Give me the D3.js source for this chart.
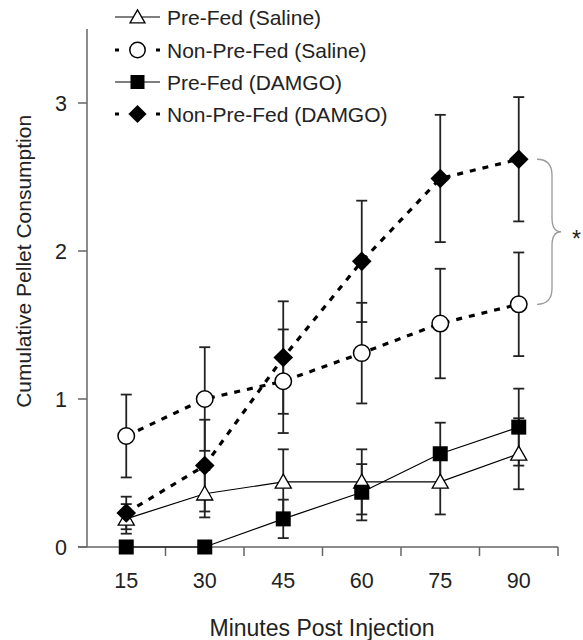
<!DOCTYPE html>
<html><head><meta charset="utf-8">
<script src="https://cdn.jsdelivr.net/npm/d3@7"></script>
<style>html,body{margin:0;padding:0;background:#fff;}svg{display:block;font-family:"Liberation Sans",Arial,sans-serif;}</style>
</head><body>
<script>
const minutes = ["15","30","45","60","75","90"];
const yTicks = [0,1,2,3];
const seriesNames = ["Pre-Fed (Saline)","Non-Pre-Fed (Saline)","Pre-Fed (DAMGO)","Non-Pre-Fed (DAMGO)"];
const preFedSaline = [0.19,0.36,0.44,0.44,0.44,0.63];
const preFedSalineSem = [0.10,0.16,0.22,0.22,0.22,0.24];
const nonPreFedSaline = [0.75,1.00,1.12,1.31,1.51,1.64];
const nonPreFedSalineSem = [0.28,0.35,0.35,0.34,0.37,0.35];
const preFedDamgo = [0,0,0.19,0.37,0.63,0.81];
const preFedDamgoSem = [0,0,0.13,0.19,0.21,0.26];
const nonPreFedDamgo = [0.23,0.55,1.28,1.93,2.49,2.62];
const nonPreFedDamgoSem = [0.11,0.31,0.38,0.41,0.43,0.42];
const xTitle = "Minutes Post Injection";
const yTitle = "Cumulative Pellet Consumption";

const W=583,H=640;
const svg=d3.select("body").append("svg").attr("width",W).attr("height",H);
const x=d3.scaleBand().domain(minutes).range([87,558]).padding(0);
const y=d3.scaleLinear().domain([0,3.5]).range([547,29]);
const cx=d=>x(d)+x.bandwidth()/2;

// axes
const gx=svg.append("g").attr("transform",`translate(0,${y(0)})`);
gx.append("line").attr("x1",x.range()[0]-9).attr("x2",x.range()[1]).attr("stroke","#666").attr("stroke-width",1.5);
gx.selectAll("line.tk").data(minutes).join("line").attr("class","tk")
  .attr("x1",m=>x(m)+x.bandwidth()).attr("x2",m=>x(m)+x.bandwidth()).attr("y1",0).attr("y2",9)
  .attr("stroke","#666").attr("stroke-width",1.5);
gx.selectAll("text").data(minutes).join("text").attr("x",cx).attr("y",41)
  .attr("text-anchor","middle").attr("font-size",21.5).attr("fill","#222").text(d=>d);

const gy=svg.append("g");
gy.append("line").attr("x1",87).attr("x2",87).attr("y1",y(3.5)).attr("y2",y(0)).attr("stroke","#666").attr("stroke-width",1.5);
gy.selectAll("line.tk").data(yTicks).join("line").attr("class","tk")
  .attr("x1",78).attr("x2",87).attr("y1",d=>y(d)).attr("y2",d=>y(d)).attr("stroke","#666").attr("stroke-width",1.5);
gy.selectAll("text").data(yTicks).join("text").attr("x",67).attr("y",d=>y(d)+8)
  .attr("text-anchor","end").attr("font-size",21.5).attr("fill","#222").text(d=>d);

svg.append("text").attr("x",322).attr("y",636).attr("text-anchor","middle").attr("font-size",23).attr("fill","#222").text(xTitle);
svg.append("text").attr("transform",`translate(31,${y(1.93)}) rotate(-90)`).attr("text-anchor","middle").attr("font-size",21).attr("fill","#222").text(yTitle);

const series=[
 {name:seriesNames[0],v:preFedSaline,e:preFedSalineSem,dash:null,lw:1.2,shape:"tri",fill:"#fff"},
 {name:seriesNames[1],v:nonPreFedSaline,e:nonPreFedSalineSem,dash:"6,7",lw:3.2,shape:"circ",fill:"#fff"},
 {name:seriesNames[2],v:preFedDamgo,e:preFedDamgoSem,dash:null,lw:1.2,shape:"sq",fill:"#000"},
 {name:seriesNames[3],v:nonPreFedDamgo,e:nonPreFedDamgoSem,dash:"6,7",lw:3.2,shape:"dia",fill:"#000"}
];

function drawMarker(g,shape,px,py,s){
  if(shape==="tri"){
    const h=s*1.0, w=s*1.15;
    g.append("path").attr("d",`M${px},${py-h*0.55}L${px+w/2},${py+h*0.45}L${px-w/2},${py+h*0.45}Z`)
      .attr("fill","#fff").attr("stroke","#000").attr("stroke-width",1.3);
  } else if(shape==="circ"){
    g.append("circle").attr("cx",px).attr("cy",py).attr("r",s*0.55).attr("fill","#fff").attr("stroke","#000").attr("stroke-width",1.5);
  } else if(shape==="sq"){
    g.append("rect").attr("x",px-s*0.5).attr("y",py-s*0.5).attr("width",s).attr("height",s).attr("fill","#000");
  } else {
    const r=s*0.7;
    g.append("path").attr("d",`M${px},${py-r}L${px+r},${py}L${px},${py+r}L${px-r},${py}Z`).attr("fill","#000");
  }
}

// error bars
const gE=svg.append("g");
series.forEach(s=>{
  minutes.forEach((m,i)=>{
    if(s.e[i]<=0) return;
    const px=cx(m), lo=y(s.v[i]-s.e[i]), hi=y(s.v[i]+s.e[i]);
    gE.append("line").attr("x1",px).attr("x2",px).attr("y1",lo).attr("y2",hi).attr("stroke","#222").attr("stroke-width",1.8);
    [lo,hi].forEach(yy=>gE.append("line").attr("x1",px-5.5).attr("x2",px+5.5).attr("y1",yy).attr("y2",yy).attr("stroke","#222").attr("stroke-width",1.8));
  });
});

// lines
const line=d3.line().x(d=>cx(d.m)).y(d=>y(d.v));
series.forEach(s=>{
  const pts=minutes.map((m,i)=>({m,v:s.v[i]}));
  svg.append("path").attr("d",line(pts)).attr("fill","none").attr("stroke","#000")
    .attr("stroke-width",s.lw).attr("stroke-dasharray",s.dash);
});
// markers
const sizes={tri:14,circ:15,sq:15,dia:14};
series.forEach(s=>{
  const g=svg.append("g");
  minutes.forEach((m,i)=>drawMarker(g,s.shape,cx(m),y(s.v[i]),sizes[s.shape]));
});

// legend
const legY=[17,50,82,114];
const lg=svg.append("g");
series.forEach((s,i)=>{
  const yy=legY[i];
  lg.append("line").attr("x1",115).attr("x2",160).attr("y1",yy).attr("y2",yy).attr("stroke","#000")
    .attr("stroke-width",s.dash?3:1.2).attr("stroke-dasharray",s.dash?"4,37,4":null);
  drawMarker(lg,s.shape,137.5,yy,sizes[s.shape]-1);
  lg.append("text").attr("x",167).attr("y",yy+7.5).attr("font-size",21).attr("fill","#222").text(s.name);
});

// significance brace
const bTop=y(nonPreFedDamgo[5]), bBot=y(nonPreFedSaline[5]), bMid=(bTop+bBot)/2;
const bp=d3.path();
bp.moveTo(537,bTop);
bp.bezierCurveTo(548,bTop,552,bTop+6,552,bTop+16);
bp.lineTo(552,bMid-14);
bp.bezierCurveTo(552,bMid-4,556,bMid,561,bMid);
bp.bezierCurveTo(556,bMid,552,bMid+4,552,bMid+14);
bp.lineTo(552,bBot-16);
bp.bezierCurveTo(552,bBot-6,548,bBot,537,bBot);
svg.append("path").attr("d",bp.toString()).attr("fill","none").attr("stroke","#999").attr("stroke-width",1.3);
svg.append("text").attr("x",572).attr("y",bMid+15).attr("font-size",23).attr("fill","#222").text("*");
</script>
</body></html>
